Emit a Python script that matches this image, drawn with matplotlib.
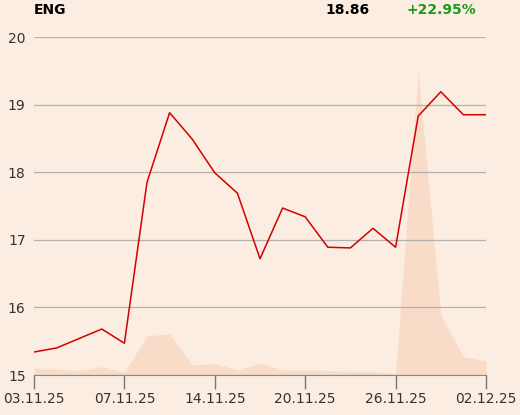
import matplotlib
matplotlib.use('Agg')
import matplotlib.pyplot as plt

# data
TICKER = "ENG"
LAST = "18.86"
CHANGE = "+22.95%"
tick_labels = ["03.11.25", "07.11.25", "14.11.25", "20.11.25", "26.11.25", "02.12.25"]
tick_index = [0, 4, 8, 12, 16, 20]
price = [15.34, 15.40, 15.54, 15.68, 15.47, 17.85, 18.88, 18.49, 17.99, 17.69, 16.72,
         17.47, 17.34, 16.89, 16.88, 17.17, 16.89, 18.83, 19.19, 18.85, 18.85]
volume = [7.3, 6.0, 4.3, 8.3, 2.7, 39, 41.3, 10, 11.3, 5, 11.7,
          5, 4.7, 4.5, 3.7, 3.5, 1.7, 303, 60, 18.3, 14]

BG = '#FBEDE1'
AREA = '#F8DCC8'
RED = '#D40000'
GRID = '#B4B0AC'

fig = plt.figure(figsize=(5.2, 4.15), dpi=100, facecolor=BG)
ax = fig.add_axes([34/520, 40/415, 452/520, 338/415])
ax2 = ax.twinx()
ax2.set_zorder(ax.get_zorder() - 1)
ax.patch.set_visible(False)
ax2.set_facecolor(BG)

x = list(range(len(price)))

# volume in the background
ax2.fill_between(x, 0, volume, color=AREA, lw=0)
ax2.set_ylim(0, 338)
ax2.set_yticks([])
for s in ax2.spines.values():
    s.set_visible(False)

# price line
ax.plot(x, price, color=RED, lw=1.1)
ax.set_xlim(0, len(price) - 1)
ax.set_ylim(15, 20)
ax.set_yticks([15, 16, 17, 18, 19, 20])
ax.grid(axis='y', color=GRID, lw=0.9)
ax.set_xticks(tick_index)
ax.set_xticklabels(tick_labels)
ax.tick_params(axis='y', length=0, pad=6, labelsize=10, labelcolor='#333333')
ax.tick_params(axis='x', length=10, width=1, color='#777777', pad=2,
               labelsize=10, labelcolor='#333333')
for side in ['top', 'right', 'left']:
    ax.spines[side].set_visible(False)
ax.spines['bottom'].set_color('#888888')

# header
fig.text(34/520, 1 - 10/415, TICKER, fontsize=10, fontweight='bold', va='center', ha='left')
fig.text(370/520, 1 - 10/415, LAST, fontsize=10, fontweight='bold', va='center', ha='right')
fig.text(406/520, 1 - 10/415, CHANGE, fontsize=10, fontweight='bold', va='center', ha='left',
         color='#1A9A1A')

fig.savefig('out.png', dpi=100, facecolor=BG)
